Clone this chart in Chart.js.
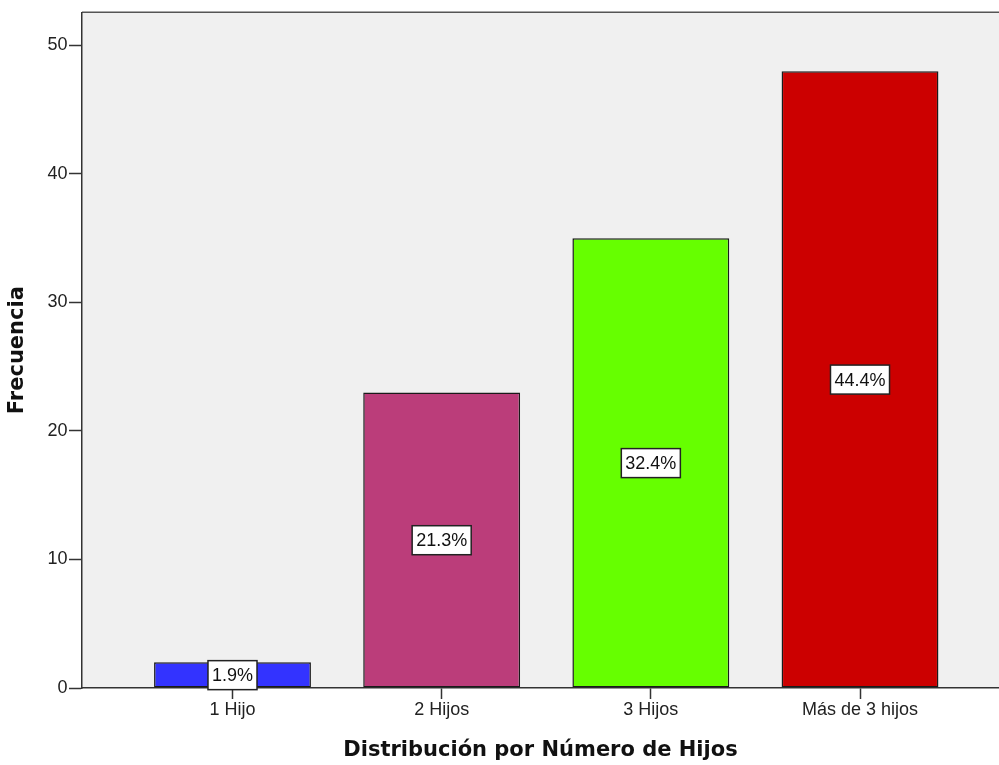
<!DOCTYPE html>
<html lang="es">
<head>
    <meta charset="UTF-8">
    <title>Distribución por Número de Hijos</title>
    <script src="https://cdn.jsdelivr.net/npm/chart.js@4.4.1/dist/chart.umd.min.js"></script>
    <style>
        html, body {
            margin: 0;
            padding: 0;
            background-color: #ffffff;
        }
        .chart-container {
            width: 999px;
            height: 765px;
            position: relative;
        }
    </style>
</head>
<body>
    <div class="chart-container">
        <canvas id="hijosChart"></canvas>
    </div>

    <script>
        // Data
        const categories = ['1 Hijo', '2 Hijos', '3 Hijos', 'Más de 3 hijos'];
        const frequencies = [2, 23, 35, 48];
        const percentLabels = ['1.9%', '21.3%', '32.4%', '44.4%'];
        const barColors = ['#3333ff', '#bb3d7a', '#66ff00', '#cc0000'];
        const yTicks = [0, 10, 20, 30, 40, 50];

        const points = frequencies.map((v, i) => ({ x: i + 1, y: v }));

        // Grey plot background + top frame line
        const plotBackground = {
            id: 'plotBackground',
            beforeDraw(chart) {
                const { ctx, chartArea: a } = chart;
                ctx.save();
                ctx.fillStyle = '#f0f0f0';
                ctx.fillRect(a.left, a.top, a.right - a.left, a.bottom - a.top);
                ctx.strokeStyle = '#555';
                ctx.lineWidth = 1.5;
                ctx.beginPath();
                ctx.moveTo(a.left, a.top);
                ctx.lineTo(a.right, a.top);
                ctx.stroke();
                ctx.restore();
            }
        };

        // Boxed percentage in the middle of each bar
        const boxLabels = {
            id: 'boxLabels',
            afterDatasetsDraw(chart) {
                const ctx = chart.ctx;
                const yScale = chart.scales.y;
                ctx.save();
                ctx.font = '18px "Liberation Sans", Arial, sans-serif';
                ctx.textAlign = 'center';
                ctx.textBaseline = 'middle';
                chart.getDatasetMeta(0).data.forEach((bar, i) => {
                    const text = percentLabels[i];
                    const cy = yScale.getPixelForValue(frequencies[i] / 2);
                    const w = ctx.measureText(text).width + 8;
                    const h = 29;
                    ctx.fillStyle = '#ffffff';
                    ctx.fillRect(bar.x - w / 2, cy - h / 2, w, h);
                    ctx.strokeStyle = '#222';
                    ctx.lineWidth = 1.5;
                    ctx.strokeRect(bar.x - w / 2, cy - h / 2, w, h);
                    ctx.fillStyle = '#111';
                    ctx.fillText(text, bar.x, cy + 1);
                });
                ctx.restore();
            }
        };

        const config = {
            type: 'bar',
            data: {
                datasets: [{
                    label: 'Frecuencia',
                    data: points,
                    backgroundColor: barColors,
                    borderColor: '#1a1a1a',
                    borderWidth: 1.5,
                    borderSkipped: false,
                    categoryPercentage: 1.0,
                    barPercentage: 0.75
                }]
            },
            options: {
                responsive: true,
                maintainAspectRatio: false,
                animation: false,
                layout: {
                    padding: { top: 10, right: 0, bottom: 0, left: 0 }
                },
                plugins: {
                    legend: { display: false },
                    tooltip: { enabled: false }
                },
                scales: {
                    x: {
                        type: 'linear',
                        offset: false,
                        min: 0.2805,
                        max: 4.6645,
                        afterBuildTicks: (scale) => {
                            scale.ticks = categories.map((c, i) => ({ value: i + 1 }));
                        },
                        afterFit: (scale) => { scale.height = 77; },
                        ticks: {
                            autoSkip: false,
                            maxRotation: 0,
                            padding: 0,
                            color: '#222',
                            font: { family: '"Liberation Sans", Arial, sans-serif', size: 18 },
                            callback: (value) => categories[value - 1]
                        },
                        grid: {
                            display: true,
                            offset: false,
                            drawOnChartArea: false,
                            drawTicks: true,
                            tickLength: 11,
                            tickColor: '#333',
                            tickWidth: 1.5
                        },
                        border: { display: true, color: '#333', width: 1.5 },
                        title: {
                            display: true,
                            text: 'Distribución por Número de Hijos',
                            color: '#111',
                            font: { family: '"DejaVu Sans", Verdana, sans-serif', size: 21, weight: 'bold' },
                            padding: { top: 0, bottom: 2 }
                        }
                    },
                    y: {
                        min: 0,
                        max: 52.58,
                        afterBuildTicks: (scale) => {
                            scale.ticks = yTicks.map(v => ({ value: v }));
                        },
                        afterFit: (scale) => { scale.width = 82; },
                        ticks: {
                            padding: 1.5,
                            color: '#222',
                            font: { family: '"Liberation Sans", Arial, sans-serif', size: 18 }
                        },
                        grid: {
                            display: true,
                            drawOnChartArea: false,
                            drawTicks: true,
                            tickLength: 13,
                            tickColor: '#333',
                            tickWidth: 1.5
                        },
                        border: { display: true, color: '#333', width: 1.5 },
                        title: {
                            display: true,
                            text: 'Frecuencia',
                            color: '#111',
                            font: { family: '"DejaVu Sans", Verdana, sans-serif', size: 21, weight: 'bold' },
                            padding: { top: 5, bottom: 0 }
                        }
                    }
                }
            },
            plugins: [plotBackground, boxLabels]
        };

        const ctx = document.getElementById('hijosChart').getContext('2d');
        new Chart(ctx, config);
    </script>
</body>
</html>
